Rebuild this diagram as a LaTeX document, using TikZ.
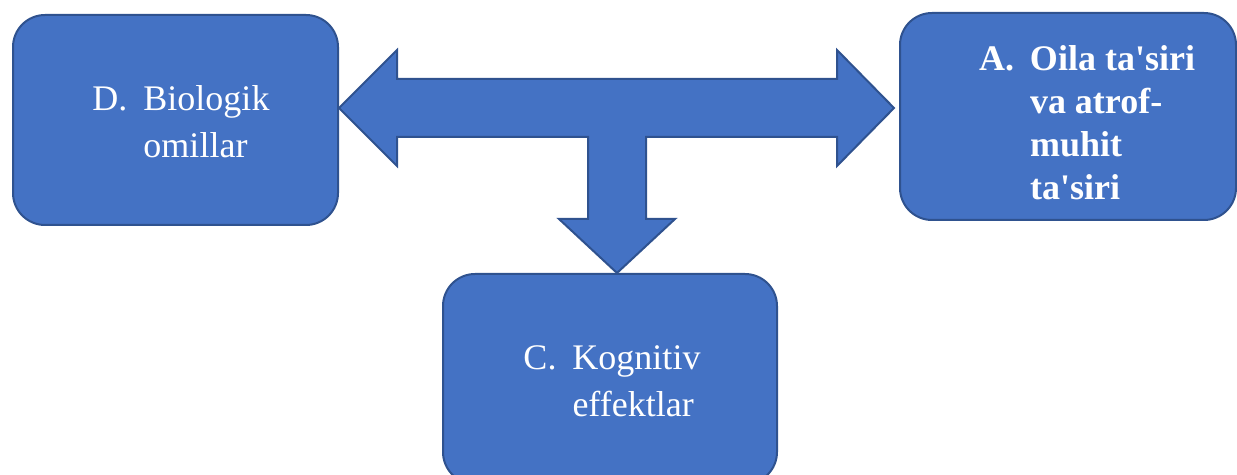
\documentclass[tikz,border=0pt]{standalone}
\usepackage{fontspec}
\setmainfont{Liberation Serif}
\usetikzlibrary{calc}

\definecolor{boxblue}{HTML}{4472C4}
\definecolor{boxline}{HTML}{2F528F}

\begin{document}
\begin{tikzpicture}[
  x=0.5pt, y=-0.5pt,
  factor/.style={
    draw=boxline,
    fill=boxblue,
    line width=1pt,
    rounded corners=16pt,
    text=white,
    inner sep=0pt,
    font=\fontsize{18}{23.5}\selectfont
  },
  bigarrow/.style={
    draw=boxline,
    fill=boxblue,
    line width=1pt,
    line join=miter
  }
]
\useasboundingbox (0,0) rectangle (1237,475);

% Factors
\node[factor, minimum width=162.5pt, minimum height=105pt] (bio) at (175.5,120)
  {\begin{tabular}{@{\hspace{5.5pt}}l@{\hspace{8pt}}l@{}}D. & Biologik\rule{0pt}{21.5pt}\\ & omillar\end{tabular}};
\node[factor, minimum width=168pt, minimum height=103.5pt,
  font=\fontsize{18}{21.5}\selectfont\bfseries] (fam) at (1068,116.5)
  {\begin{tabular}{@{\hspace{19pt}}l@{\hspace{8pt}}l@{}}A. & Oila ta\textquotesingle siri\rule{0pt}{25pt}\\ & va atrof-\\ & muhit\\ & ta\textquotesingle siri\end{tabular}};
\node[factor, minimum width=167pt, minimum height=105pt] (cog) at (610,379)
  {\begin{tabular}{@{\hspace{2pt}}l@{\hspace{8pt}}l@{}}C. & Kognitiv\rule{0pt}{21.5pt}\\ & effektlar\end{tabular}};

% Arrow
\coordinate (hub) at (617,108);
\coordinate (ltip) at (bio.east |- hub);
\coordinate (rtip) at ($(fam.west |- hub)+(-5,0)$);
\coordinate (dtip) at (cog.north -| hub);
\draw[bigarrow] (ltip) -- ++(58,-58) -- ++(0,29)
  -- ($(rtip)+(-57,-29)$) -- ++(0,-29) -- (rtip) -- ++(-57,58) -- ++(0,-29)
  -- ($(hub)+(29,29)$) -- ($(dtip)+(29,-54)$) -- ++(29,0) -- (dtip)
  -- ++(-58,-54) -- ++(29,0) -- ($(hub)+(-29,29)$)
  -- ($(ltip)+(58,29)$) -- ++(0,29) -- cycle;

\end{tikzpicture}
\end{document}
